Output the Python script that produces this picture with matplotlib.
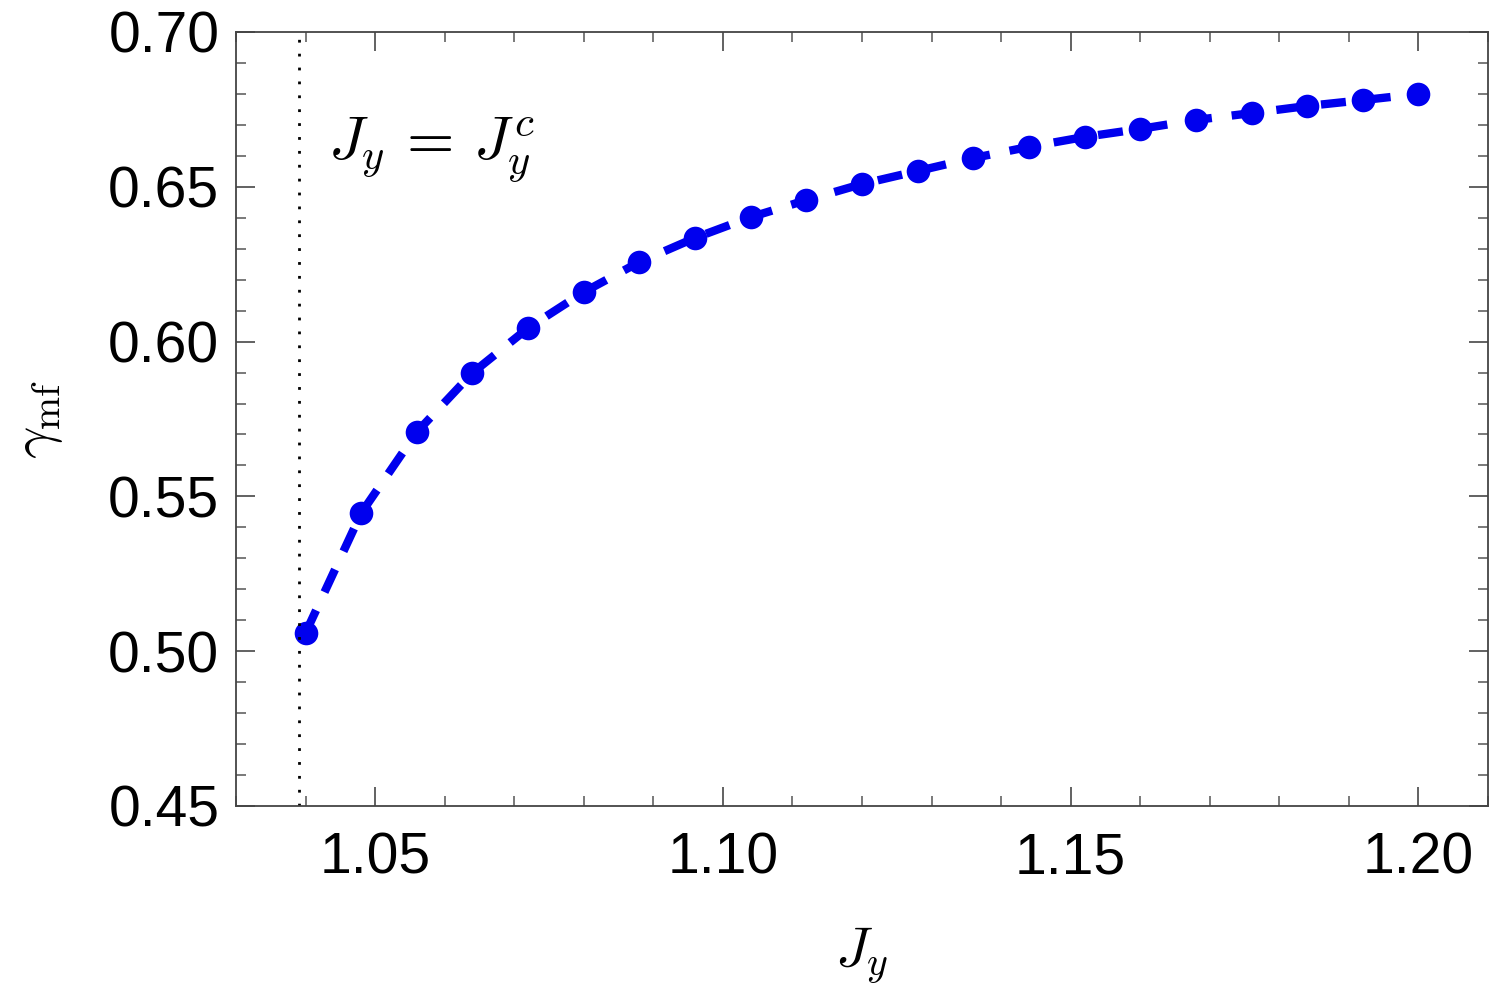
import matplotlib
matplotlib.use("Agg")
import matplotlib.pyplot as plt
from matplotlib.ticker import MultipleLocator, FormatStrFormatter

plt.rcParams['mathtext.fontset'] = 'cm'
plt.rcParams['font.family'] = ['Liberation Sans', 'DejaVu Sans']

Jy = [1.040, 1.048, 1.056, 1.064, 1.072, 1.080, 1.088, 1.096, 1.104, 1.112,
      1.120, 1.128, 1.136, 1.144, 1.152, 1.160, 1.168, 1.176, 1.184, 1.192, 1.200]
gamma_mf = [0.5059, 0.5446, 0.5708, 0.5899, 0.6044, 0.6160, 0.6257, 0.6335, 0.6402, 0.6457,
            0.6509, 0.6551, 0.6593, 0.6629, 0.6661, 0.6687, 0.6716, 0.6738, 0.6761, 0.6780, 0.6800]
Jc = 1.039

fig = plt.figure(figsize=(14.95, 10), dpi=100)
ax = fig.add_axes([236/1495, 1 - 806/1000, (1488-236)/1495, (806-32)/1000])

ax.plot(Jy, gamma_mf, color='#0000ee', lw=6, ls=(0, (3.0, 2.4)), marker='o',
        markersize=17, markeredgewidth=0, dash_capstyle='butt')
ax.axvline(Jc, color='black', lw=2, ls=(0, (1, 4)))

ax.set_xlim(1.03, 1.21)
ax.set_ylim(0.45, 0.70)
ax.xaxis.set_major_locator(MultipleLocator(0.05))
ax.xaxis.set_minor_locator(MultipleLocator(0.01))
ax.yaxis.set_major_locator(MultipleLocator(0.05))
ax.yaxis.set_minor_locator(MultipleLocator(0.01))
ax.xaxis.set_major_formatter(FormatStrFormatter('%.2f'))
ax.yaxis.set_major_formatter(FormatStrFormatter('%.2f'))
ax.tick_params(which='both', direction='in', top=True, right=True, color='#555555')
ax.tick_params(which='major', length=14, width=1.3, labelsize=41)
ax.tick_params(axis='x', which='major', pad=18)
ax.tick_params(axis='y', which='major', pad=12)
ax.tick_params(which='minor', length=7, width=1.1)
for s in ax.spines.values():
    s.set_color('#444444')
    s.set_linewidth(1.3)

ax.set_xlabel(r'$J_y$', fontsize=41, labelpad=29)
ax.set_ylabel(r'$\gamma_{\rm mf}$', fontsize=41, labelpad=31)
ax.text(1.0432, 0.662, r'$J_y \,=\, J_y^c$', fontsize=44, ha='left', va='center')

fig.savefig('out.png', dpi=100)
